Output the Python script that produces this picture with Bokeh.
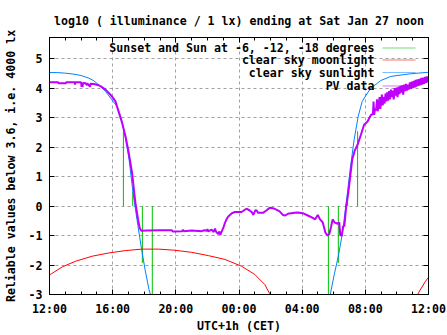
from bokeh.plotting import figure
from bokeh.models import Range1d, FixedTicker, LinearAxis, Label, BoxAnnotation
from bokeh.embed import file_html
from bokeh.resources import INLINE

# ---------------- data (hours after Fri 12:00 CET) ----------------
x_tick_hours = [0, 4, 8, 12, 16, 20, 24]
x_tick_labels = ["12:00", "16:00", "20:00", "00:00", "04:00", "08:00", "12:00"]
x_minor_hours = list(range(0, 25))
y_ticks = [-3, -2, -1, 0, 1, 2, 3, 4, 5]
y_tick_labels = ["-3", "-2", "-1", "0", "1", "2", "3", "4", "5"]

# Sunset and sun at -6, -12, -18 degrees (vertical markers from 0)
sun_event_h = [4.68, 5.27, 5.88, 6.51, 17.66, 18.29, 18.88, 19.51]
sun_event_base = [0, 0, 0, 0, 0, 0, 0, 0]
sun_event_top = [2.54, 0.50, -1.93, -3.0, -3.0, -1.93, 0.50, 2.54]

# clear sky moonlight
moon_eve_h = [0.0, 0.14, 0.82, 1.66, 2.71, 3.76, 4.81, 5.86, 6.91, 7.96, 9.01,
              10.06, 11.11, 12.16, 13.0, 13.63, 13.94, 13.98]
moon_eve_v = [-2.33, -2.29, -2.06, -1.87, -1.70, -1.59, -1.51, -1.46, -1.46, -1.50,
              -1.57, -1.68, -1.81, -2.04, -2.32, -2.66, -2.97, -3.02]
moon_morn_h = [23.30, 23.39, 23.81, 24.0]
moon_morn_v = [-3.02, -2.92, -2.55, -2.42]

# clear sky sunlight
sun_eve_h = [0.0, 0.5, 1.0, 1.5, 2.0, 2.5, 2.81, 3.23, 3.55, 3.86, 4.03, 4.28, 4.54,
             4.79, 5.04, 5.29, 5.54, 5.80, 6.05, 6.30, 6.42]
sun_eve_v = [4.53, 4.53, 4.51, 4.48, 4.43, 4.34, 4.25, 4.06, 3.89, 3.67, 3.55, 3.38,
             2.99, 2.37, 1.58, 0.45, -0.46, -1.36, -2.15, -2.83, -3.05]
sun_morn_h = [17.76, 18.04, 18.29, 18.54, 18.79, 19.04, 19.29, 19.55, 19.80, 20.14,
              20.35, 20.98, 21.61, 22.87, 24.0]
sun_morn_v = [-3.05, -2.30, -1.70, -0.95, 0.10, 1.25, 2.25, 3.05, 3.55, 3.84,
              4.00, 4.26, 4.40, 4.49, 4.54]

# PV data
pv_h = [0.00, 0.55, 0.56, 1.05, 1.06, 1.60, 1.62, 1.64, 2.00, 2.03, 2.06, 2.09, 2.12,
        2.30, 2.35, 2.40, 2.56, 2.60, 2.81, 3.05, 3.23, 3.55, 3.86, 4.03, 4.18, 4.39,
        4.60, 4.81, 5.02, 5.23, 5.44, 5.61, 5.71, 5.81, 6.20, 7.00, 7.75, 7.80, 8.40,
        8.45, 8.50, 9.00, 9.64, 9.80, 9.95, 10.00, 10.05, 10.27, 10.40, 10.48, 10.55,
        10.69, 10.76, 10.82, 10.86, 11.00, 11.11, 11.21, 11.32, 11.53, 11.74, 12.16,
        12.47, 12.68, 12.83, 12.91, 13.04, 13.12, 13.21, 13.52, 13.73, 13.94, 14.15,
        14.36, 14.57, 14.78, 14.93, 15.10, 15.52, 15.73, 16.04, 16.36, 16.67, 16.82,
        16.99, 17.13, 17.30, 17.47, 17.62, 17.72, 17.83, 17.93, 18.04, 18.25, 18.35,
        18.41, 18.50, 18.60, 18.67, 18.79, 18.92, 19.04, 19.17, 19.34, 19.51, 19.72,
        19.92, 20.14, 20.30, 20.40, 20.48, 20.52, 20.56, 20.62, 20.68, 20.74, 20.78,
        20.85, 20.90, 20.95, 21.00, 21.05, 21.10, 21.16, 21.22, 21.28, 21.33, 21.38,
        21.44, 21.50, 21.56, 21.62, 21.68, 21.74, 21.80, 21.86, 21.92, 21.98, 22.04,
        22.10, 22.16, 22.22, 22.28, 22.34, 22.40, 22.46, 22.52, 22.58, 22.64, 22.70,
        22.76, 22.82, 22.88, 22.94, 23.00, 23.06, 23.12, 23.18, 23.24, 23.30, 23.36,
        23.42, 23.48, 23.54, 23.60, 23.66, 23.72, 23.78, 23.84, 23.90, 23.96, 24.00]
pv_v = [4.20, 4.20, 4.17, 4.17, 4.20, 4.20, 4.12, 4.20, 4.20, 4.04, 4.19, 4.04, 4.18,
        4.17, 4.10, 4.16, 4.05, 4.15, 4.14, 4.11, 4.07, 3.95, 3.78, 3.66, 3.55, 3.18,
        2.82, 2.37, 1.80, 1.12, 0.11, -0.46, -0.74, -0.84, -0.83, -0.82, -0.82, -0.86, -0.85,
        -0.80, -0.85, -0.83, -0.85, -0.82, -0.84, -0.78, -0.86, -0.80, -0.88, -0.76, -0.87,
        -0.95, -0.86, -0.97, -0.92, -0.75, -0.57, -0.45, -0.35, -0.25, -0.20, -0.20,
        -0.09, -0.15, -0.22, -0.30, -0.14, -0.15, -0.23, -0.23, -0.15, -0.06, -0.07,
        -0.12, -0.18, -0.30, -0.32, -0.26, -0.23, -0.22, -0.24, -0.32, -0.40, -0.45,
        -0.30, -0.45, -0.55, -0.90, -1.00, -0.95, -0.70, -0.45, -0.55, -0.60, -0.55,
        -0.97, -1.02, -0.68, -0.68, 0.00, 0.45, 1.00, 1.58, 1.90, 2.08, 2.42,
        2.76, 2.87, 3.04, 3.12, 3.10, 3.55, 3.10, 3.30, 3.25, 3.62, 3.22,
        3.40, 3.70, 3.30, 3.55, 3.78, 3.42, 3.70, 3.48, 3.82, 3.55, 3.86,
        3.58, 3.90, 3.62, 3.95, 3.70, 3.92, 3.62, 4.00, 3.75, 4.02, 3.70,
        4.05, 3.80, 4.08, 3.85, 4.10, 3.78, 4.12, 3.90, 4.15, 3.92, 4.12,
        3.95, 4.20, 3.98, 4.22, 4.00, 4.25, 4.02, 4.28, 4.05, 4.30, 4.08,
        4.32, 4.10, 4.35, 4.12, 4.36, 4.15, 4.38, 4.18, 4.40, 4.20, 4.35]

title_text = "log10 ( illuminance / 1 lx) ending at Sat Jan 27 noon"
x_label = "UTC+1h (CET)"
y_label = "Reliable values below 3.6, i.e. 4000 lx"
legend_labels = ["Sunset and Sun at -6, -12, -18 degrees", "clear sky moonlight",
                 "clear sky sunlight", "PV data"]

# ---------------- styling ----------------
FONT = "DejaVu Sans Mono"
FSIZE = "11.6px"
C_GREEN, C_RED, C_BLUE, C_PV = "#00c000", "#ff0000", "#0080ff", "#c000ff"
GRID = "#a0a0a0"

p = figure(width=447, height=335, output_backend="svg", toolbar_location=None, tools="",
           x_range=Range1d(0, 24), y_range=Range1d(-3, 5.72),
           min_border_left=47, min_border_right=19, min_border_top=37, min_border_bottom=41,
           background_fill_color="white", border_fill_color="white")

p.title.text = title_text
p.title.align = "center"
p.title.text_font = FONT
p.title.text_font_size = FSIZE
p.title.text_font_style = "bold"
p.title.text_color = "black"
p.title.standoff = 19

p.outline_line_color = "black"
p.outline_line_width = 1

xt = FixedTicker(ticks=x_tick_hours, minor_ticks=x_minor_hours)
yt = FixedTicker(ticks=y_ticks)

xa = p.xaxis[0]
xa.ticker = xt
xa.major_label_overrides = {h: lab for h, lab in zip(x_tick_hours, x_tick_labels)}
xa.axis_label = x_label
ya = p.yaxis[0]
ya.ticker = yt
ya.major_label_overrides = {t: lab for t, lab in zip(y_ticks, y_tick_labels)}
ya.axis_label = y_label

for ax in (xa, ya):
    ax.axis_line_color = "black"
    ax.major_tick_in = 5
    ax.major_tick_out = 0
    ax.minor_tick_in = 3
    ax.minor_tick_out = 0
    ax.major_tick_line_color = "black"
    ax.major_label_text_font = FONT
    ax.major_label_text_font_size = FSIZE
    ax.major_label_text_font_style = "bold"
    ax.major_label_text_color = "black"
    ax.axis_label_text_font = FONT
    ax.axis_label_text_font_size = FSIZE
    ax.axis_label_text_font_style = "bold"
    ax.axis_label_text_color = "black"
ya.minor_tick_line_color = None
xa.major_label_standoff = 7
xa.axis_label_standoff = 0
ya.major_label_standoff = 7
ya.axis_label_standoff = 8

# mirrored tick marks on top and right (no labels drawn)
top_ax = LinearAxis(ticker=xt, major_label_text_font_size="0px", major_label_standoff=0,
                    major_label_text_color=None,
                    major_tick_in=5, major_tick_out=0, minor_tick_in=3, minor_tick_out=0)
right_ax = LinearAxis(ticker=yt, major_label_text_font_size="0px", major_label_standoff=0,
                      major_label_text_color=None,
                      major_tick_in=5, major_tick_out=0, minor_tick_line_color=None)
p.add_layout(top_ax, "above")
p.add_layout(right_ax, "right")

for g in (p.xgrid[0], p.ygrid[0]):
    g.grid_line_color = GRID
    g.grid_line_dash = "3 3"
    g.grid_line_width = 1

# ---------------- data marks ----------------
p.segment(x0=sun_event_h, y0=sun_event_base, x1=sun_event_h, y1=sun_event_top,
          line_color=C_GREEN, line_width=1)
p.line(moon_eve_h, moon_eve_v, line_color=C_RED, line_width=1)
p.line(moon_morn_h, moon_morn_v, line_color=C_RED, line_width=1)
p.line(sun_eve_h, sun_eve_v, line_color=C_BLUE, line_width=1)
p.line(sun_morn_h, sun_morn_v, line_color=C_BLUE, line_width=1)
p.line(pv_h, pv_v, line_color=C_PV, line_width=2)

# ---------------- gnuplot-style key (text right, sample left) ----------------
key_colors = [C_GREEN, C_RED, C_BLUE, C_PV]
key_y = [246.5, 234.5, 222.0, 208.5]
for lab, col, ky in zip(legend_labels, key_colors, key_y):
    p.add_layout(Label(x=325, y=ky, x_units="screen", y_units="screen", text=lab,
                       text_align="right", text_baseline="middle", text_font=FONT,
                       text_font_size=FSIZE, text_font_style="bold", text_color="black"))
    p.add_layout(BoxAnnotation(left=333, right=366, bottom=ky, top=ky,
                               left_units="screen", right_units="screen",
                               bottom_units="screen", top_units="screen",
                               fill_alpha=0.0, line_color=col, line_width=1))

open("out.html", "w").write(file_html(p, INLINE))
